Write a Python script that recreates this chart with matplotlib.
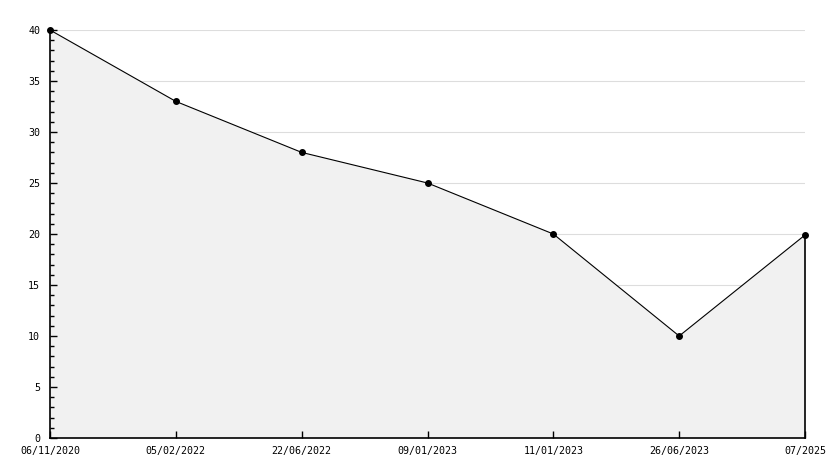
import matplotlib
matplotlib.use("Agg")
import matplotlib.pyplot as plt
from matplotlib.ticker import MultipleLocator

labels = ["06/11/2020", "05/02/2022", "22/06/2022", "09/01/2023", "11/01/2023", "26/06/2023", "07/2025"]
values = [40, 33, 28, 25, 20, 10, 19.9]

fig = plt.figure(figsize=(8.34, 4.68), dpi=100)
ax = fig.add_axes([50/834, 30/468, 755/834, 408/468])
x = list(range(len(labels)))

for g in range(5, 41, 5):
    ax.axhline(g, color="#dddddd", lw=0.8, zorder=0)
ax.fill_between(x, values, 0, facecolor="#f1f1f1", edgecolor="none", zorder=1)
ax.plot(x, values, color="black", lw=0.8, marker="o", ms=4, zorder=4, clip_on=False)
ax.plot([x[-1], x[-1]], [0, values[-1]], color="black", lw=1.2, zorder=3, clip_on=False)

ax.set_xlim(0, len(labels) - 1)
ax.set_ylim(0, 40)
ax.yaxis.set_major_locator(MultipleLocator(5))
ax.yaxis.set_minor_locator(MultipleLocator(1))
ax.set_axisbelow(False)
ax.set_xticks(x)
ax.set_xticklabels(labels)
for s in ["top", "right"]:
    ax.spines[s].set_visible(False)
ax.spines["left"].set_linewidth(1.2)
ax.spines["bottom"].set_linewidth(1.2)
ax.tick_params(axis="both", which="both", direction="in", labelsize=7.2, colors="black")
ax.tick_params(axis="y", which="major", length=5, width=1, pad=7)
ax.tick_params(axis="y", which="minor", length=3, width=1)
ax.tick_params(axis="x", which="major", length=5, width=1, pad=6)
for t in ax.get_xticklabels() + ax.get_yticklabels():
    t.set_family("DejaVu Sans Mono")
fig.savefig("out.png", dpi=100)
